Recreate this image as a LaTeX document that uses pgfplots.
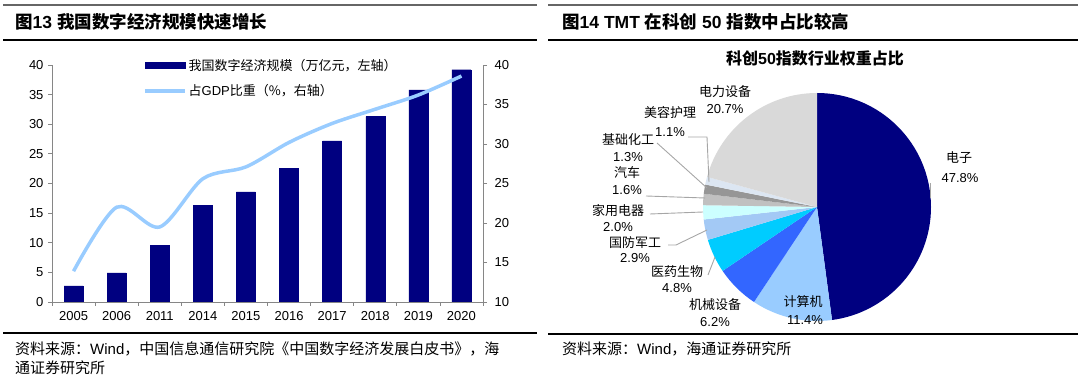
\documentclass[border=0pt]{standalone}
\usepackage{pgfplots}
\pgfplotsset{compat=1.18}
\usepackage{pgfplotstable}
\usepackage{fontspec}
\setmainfont{Liberation Sans}
\newfontfamily\cjk{Noto Sans CJK SC}
\definecolor{navy}{HTML}{000080}
\definecolor{lineblue}{HTML}{99CCFF}
\definecolor{axgray}{HTML}{868686}
\definecolor{leader}{HTML}{A6A6A6}
\definecolor{cJSJ}{HTML}{99CCFF}
\definecolor{cJX}{HTML}{3366FF}
\definecolor{cYY}{HTML}{00CCFF}
\definecolor{cGF}{HTML}{A3C9F5}
\definecolor{cJD}{HTML}{CCFFFF}
\definecolor{cQC}{HTML}{C0C0C0}
\definecolor{cHG}{HTML}{969696}
\definecolor{cMR}{HTML}{DCE6F2}
\definecolor{cDL}{HTML}{D9D9D9}

\pgfplotstableread{
idx year scale share
0 2005 2.7 13.9
1 2006 4.9 22.0
2 2011 9.6 19.5
3 2014 16.3 25.6
4 2015 18.6 27.1
5 2016 22.6 30.2
6 2017 27.2 32.6
7 2018 31.3 34.4
8 2019 35.8 36.2
9 2020 39.2 38.6
}\digital

\newcommand\cn[1]{{\cjk #1}}
\newcommand\pietotal{99.8}
\gdef\pcum{0}
\newcommand\pieslice[2]{%
  \pgfmathsetmacro\pstart{90-\pcum/\pietotal*360}%
  \pgfmathsetmacro\pcumnew{\pcum+#2}%
  \global\let\pcum\pcumnew
  \pgfmathsetmacro\pend{90-\pcum/\pietotal*360}%
  \pgfmathsetmacro\sx{cos(\pstart)}%
  \pgfmathsetmacro\sy{sin(\pstart)}%
  \edef\temp{\noexpand\fill[#1] (axis cs:0,0) -- (axis cs:\sx,\sy) arc[start angle=\pstart, end angle=\pend, radius=114pt] -- cycle;}%
  \temp}

\begin{document}
\begin{tikzpicture}[x=1pt,y=1pt]
\path[use as bounding box] (0,0) rectangle (1080,377);
% rules
\draw[line width=2pt, black!60] (3,372) -- (537,372);
\draw[line width=1.2pt] (3,337) -- (537,337);
\draw[line width=1.2pt] (3,44) -- (537,44);
\draw[line width=2pt, black!60] (548,372) -- (1078,372);
\draw[line width=1.2pt] (548,337) -- (1078,337);
\draw[line width=1.2pt] (548,43) -- (1078,43);
% titles
\node[anchor=west, inner sep=0] at (15,355) {\fontsize{17.5}{18}\selectfont\bfseries\cn{图}13 \cn{我国数字经济规模快速增长}};
\node[anchor=west, inner sep=0] at (562,355) {\fontsize{17.5}{18}\selectfont\bfseries\cn{图}14 TMT \cn{在科创} 50 \cn{指数中占比较高}};
\node[inner sep=0] at (815,319) {\fontsize{16}{16}\selectfont\bfseries\cn{科创}50\cn{指数行业权重占比}};
% sources
\node[anchor=west, inner sep=0] at (15,28) {\fontsize{15}{15}\selectfont\cn{资料来源：}Wind\cn{，中国信息通信研究院《中国数字经济发展白皮书》，海}};
\node[anchor=west, inner sep=0] at (15,9) {\fontsize{15}{15}\selectfont\cn{通证券研究所}};
\node[anchor=west, inner sep=0] at (562,28) {\fontsize{15}{15}\selectfont\cn{资料来源：}Wind\cn{，海通证券研究所}};

% left chart: bars
\begin{axis}[at={(52pt,75pt)}, anchor=south west, scale only axis, width=431pt, height=237pt,
  xmin=-0.5, xmax=9.5, ymin=0, ymax=40, ytick={0,5,...,40},
  axis y line*=left, axis x line*=bottom,
  xtick={-0.5,0.5,...,9.5}, xticklabels={,,,,,,,,,,,},
  extra x ticks={0,1,...,9},
  extra x tick labels={2005,2006,2011,2014,2015,2016,2017,2018,2019,2020},
  extra x tick style={major tick length=0pt},
  tick align=outside, major tick length=4pt,
  axis line style={axgray, line width=0.8pt}, tick style={axgray, line width=0.8pt},
  ticklabel style={font=\fontsize{13}{13}\selectfont, text=black},
  /pgf/number format/assume math mode=true,
  xticklabel style={yshift=-6pt}, yticklabel style={xshift=-1pt}]
\addplot[ybar, bar width=19pt, fill=navy, draw=navy] table[x=idx, y=scale]{\digital};
\end{axis}
% left chart: line
\begin{axis}[at={(52pt,75pt)}, anchor=south west, scale only axis, width=431pt, height=237pt,
  xmin=-0.5, xmax=9.5, ymin=10, ymax=40, ytick={10,15,...,40},
  axis y line*=right, axis x line=none,
  tick align=outside, major tick length=4pt,
  axis line style={axgray, line width=0.8pt}, tick style={axgray, line width=0.8pt},
  ticklabel style={font=\fontsize{13}{13}\selectfont, text=black},
  /pgf/number format/assume math mode=true,
  yticklabel style={xshift=4pt},
  legend cell align=left,
  legend style={draw=none, fill=none, at={(axis description cs:0.211,1.03)}, anchor=north west,
    inner sep=0pt, row sep=11pt, column sep=1pt, font=\fontsize{13}{13}\selectfont,
    nodes={inner sep=1pt}}]
\addlegendimage{legend image code/.code={\fill[navy] (0pt,-3pt) rectangle (40pt,3pt);}}
\addlegendentry{\cn{我国数字经济规模（万亿元，左轴）}}
\addplot[lineblue, line width=3.5pt, smooth,
  legend image code/.code={\draw[lineblue, line width=3.5pt] (0pt,0pt) -- (40pt,0pt);}]
  table[x=idx, y=share]{\digital};
\addlegendentry{\cn{占}GDP\cn{比重（\%，右轴）}}
\end{axis}

% pie
\begin{axis}[at={(703pt,56pt)}, anchor=south west, scale only axis, width=228pt, height=228pt,
  hide axis, xmin=-1, xmax=1, ymin=-1, ymax=1, clip=false]
\pieslice{navy}{47.8}
\pieslice{cJSJ}{11.4}
\pieslice{cJX}{6.2}
\pieslice{cYY}{4.8}
\pieslice{cGF}{2.9}
\pieslice{cJD}{2.0}
\pieslice{cQC}{1.6}
\pieslice{cHG}{1.3}
\pieslice{cMR}{1.1}
\pieslice{cDL}{20.7}
\end{axis}
% leader lines
\begin{scope}[leader, line width=0.9pt]
\draw (688,240) -- (707,240) -- (709,195);
\draw (657,234) -- (707,189);
\draw (646,181) -- (705,179);
\draw (650,163) -- (703,165);
\draw (668,132) -- (676,132) -- (707,147);
\draw (708,102) -- (715,120);
\draw (930,194) -- (930,179);
\end{scope}
% pie labels
\begin{scope}[every node/.style={inner sep=0, font=\fontsize{13}{13}\selectfont}]
\node at (725,285) {\cn{电力设备}}; \node at (725,268) {20.7\%};
\node at (670,264) {\cn{美容护理}}; \node at (670,245) {1.1\%};
\node at (628,237) {\cn{基础化工}}; \node at (628,220) {1.3\%};
\node at (627,204) {\cn{汽车}}; \node at (627,187) {1.6\%};
\node at (618,166) {\cn{家用电器}}; \node at (618,150) {2.0\%};
\node at (635,134) {\cn{国防军工}}; \node at (635,119) {2.9\%};
\node at (677,105) {\cn{医药生物}}; \node at (677,89) {4.8\%};
\node at (715,72) {\cn{机械设备}}; \node at (715,55) {6.2\%};
\node at (803,75) {\cn{计算机}}; \node at (805,57) {11.4\%};
\node at (959,219) {\cn{电子}}; \node at (960,199) {47.8\%};
\end{scope}
\end{tikzpicture}
\end{document}
